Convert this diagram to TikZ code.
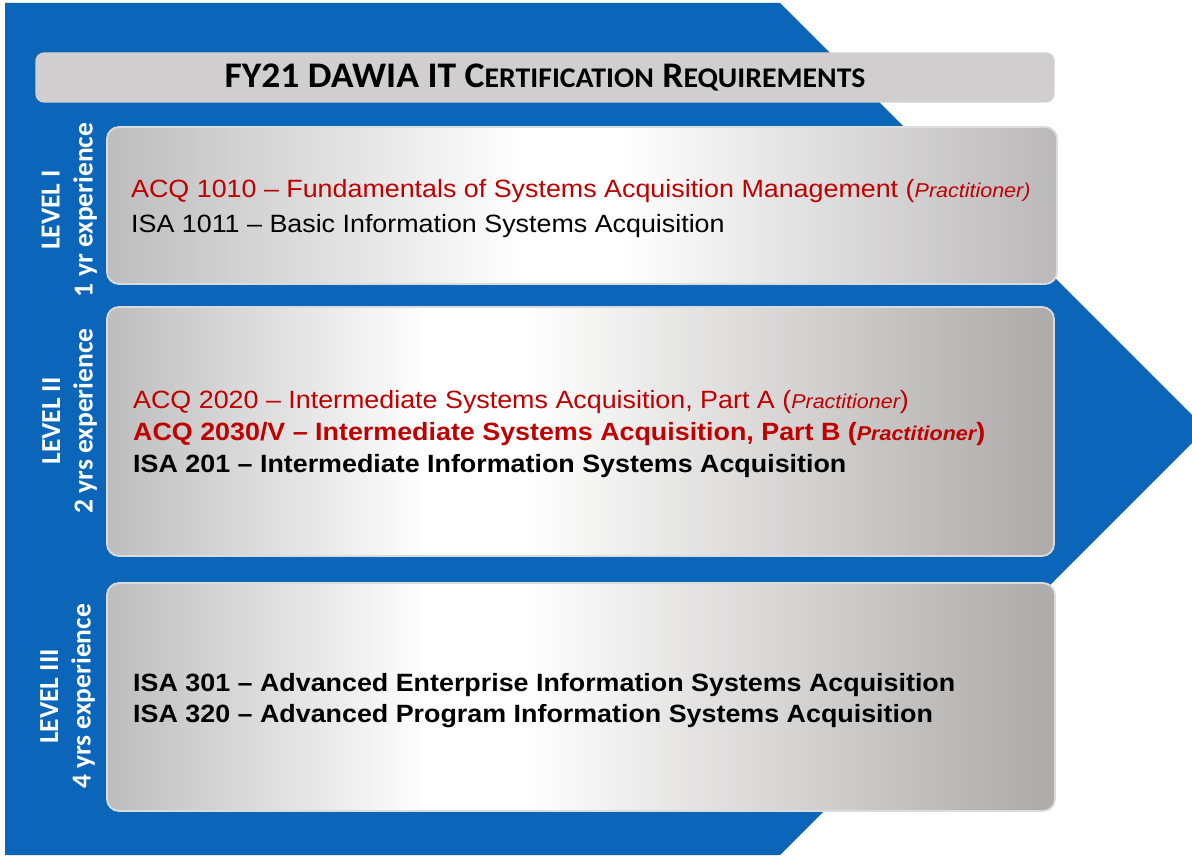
\documentclass[tikz,border=0pt]{standalone}
\usepackage{fontspec}
\setmainfont[FakeStretch=1.074]{Liberation Sans}
\newfontfamily\carl{Carlito}
\newfontfamily\carlt[FakeStretch=1.045]{Carlito}
\definecolor{dblue}{HTML}{0B66B9}
\definecolor{dred}{HTML}{C00000}
\definecolor{lgray}{HTML}{BEBDBD}
\definecolor{rgray}{HTML}{BAB8B8}
\definecolor{rgrayd}{HTML}{AFACAB}
\definecolor{tgray}{HTML}{D0CECF}
\newcommand\practfont{\itshape\fontsize{20}{22}\selectfont}
\pgfdeclarehorizontalshading{boxshadeA}{100bp}{color(0bp)=(lgray); color(25bp)=(lgray); color(47bp)=(white); color(52bp)=(white); color(75bp)=(rgray); color(100bp)=(rgray)}
\pgfdeclarehorizontalshading{boxshadeB}{100bp}{color(0bp)=(lgray); color(25bp)=(lgray); color(42bp)=(white); color(47bp)=(white); color(74bp)=(rgrayd); color(100bp)=(rgrayd)}
\tikzset{
  levelbox/.style={draw=white!72!gray, line width=1.8pt, rounded corners=12pt},
  sidelabel/.style={rotate=90, anchor=base, text=white, font=\carl\bfseries\fontsize{27.5}{33}\selectfont, inner sep=0pt},
  course/.style={anchor=base west, inner sep=0pt, font=\fontsize{25}{31}\selectfont},
  bcourse/.style={course, font=\bfseries\fontsize{25}{31}\selectfont}
}
\begin{document}
\begin{tikzpicture}[x=1pt,y=-1pt]
\useasboundingbox (0,0) rectangle (1192,858);
\clip (0,0) rectangle (1192,858);
\fill[white] (0,0) rectangle (1192,858);
% blue chevron
\fill[dblue] (5,3) -- (780,3) -- (1206,429) -- (780,855) -- (5,855) -- cycle;
% title
\node (titlebox) [draw=white!65!gray, line width=1.2pt, fill=tgray, rounded corners=8pt, minimum width=1018pt, minimum height=49pt, inner sep=0pt] at (545,77.5) {};
\node (title) [anchor=base, inner sep=0pt] at (545,87.3)
  {\carlt\bfseries\fontsize{36}{38}\selectfont FY21 DAWIA IT C{\fontsize{28.5}{30}\selectfont ERTIFICATION} R{\fontsize{28.5}{30}\selectfont EQUIREMENTS}};
% level boxes
\path[levelbox, shading=boxshadeA] (107,127) rectangle (1057,284);
\node (b1) at (582,205.5) {};
\path[levelbox, shading=boxshadeB] (107,307) rectangle (1054,556);
\node (b2) at (580,431.5) {};
\path[levelbox, shading=boxshadeB] (107,583) rectangle (1055,811);
\node (b3) at (581,697) {};
% side labels
\node[sidelabel] (l1a) at (59.5,210) {LEVEL I};
\node[sidelabel] (l1b) at (92.5,210) {1 yr experience};
\node[sidelabel] (l2a) at (60,421) {LEVEL II};
\node[sidelabel] (l2b) at (92.5,421) {2 yrs experience};
\node[sidelabel] (l3a) at (58,696.5) {LEVEL III};
\node[sidelabel] (l3b) at (90.5,696.5) {4 yrs experience};
% courses
\node[course, text=dred] (c11) at (131,197.5) {ACQ 1010 – Fundamentals of Systems Acquisition Management ({\practfont Practitioner)}};
\node[course] (c12) at (131,232.5) {ISA 1011 – Basic Information Systems Acquisition};
\node[course, text=dred] (c21) at (133,408.5) {ACQ 2020 – Intermediate Systems Acquisition, Part A ({\practfont Practitioner})};
\node[bcourse, text=dred] (c22) at (133,440.5) {ACQ 2030/V – Intermediate Systems Acquisition, Part B ({\practfont\bfseries Practitioner})};
\node[bcourse] (c23) at (133,472) {ISA 201 – Intermediate Information Systems Acquisition};
\node[bcourse] (c31) at (133,691) {ISA 301 – Advanced Enterprise Information Systems Acquisition};
\node[bcourse] (c32) at (133,722.7) {ISA 320 – Advanced Program Information Systems Acquisition};
\end{tikzpicture}
\end{document}
